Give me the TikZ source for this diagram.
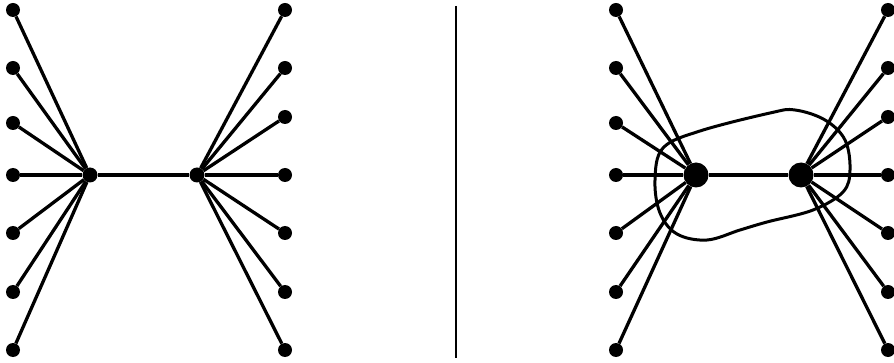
\documentclass[tikz,border=0pt]{standalone}
\usetikzlibrary{positioning}
\tikzset{
  dot/.style={circle, fill=black, inner sep=0pt, minimum size=14pt},
  hub/.style={circle, fill=black, inner sep=0pt, minimum size=#1},
  hub/.default=15pt,
  edge/.style={draw=black, line width=3.3pt},
  blob/.style={draw=black, line width=3pt},
  divider/.style={draw=black, line width=1.4pt},
}
\begin{document}
\begin{tikzpicture}[x=1pt, y=-1pt]
  \useasboundingbox (0,0) rectangle (894,363);
  % left graph
  \node[hub] (a) at (90,175) {};
  \node[hub] (b) at (197,175) {};
  \foreach \i/\yl/\yr in {1/10/10, 2/68/68, 3/123/117, 4/175/175, 5/233/233, 6/292/292, 7/350/350} {
    \node[dot] (al\i) at (13,\yl) {};
    \node[dot] (br\i) at (285,\yr) {};
    \draw[edge] (al\i) -- (a);
    \draw[edge] (br\i) -- (b);
  }
  \draw[edge] (a) -- (b);
  % divider
  \draw[divider] (456,6) -- (456,358);
  % right graph, hubs enclosed
  \node[hub=25pt] (c) at (696,175) {};
  \node[hub=25pt] (d) at (801,175) {};
  \foreach \i/\yl/\yr in {1/10/10, 2/68/68, 3/123/117, 4/175/175, 5/233/233, 6/292/292, 7/350/350} {
    \node[dot] (cl\i) at (616,\yl) {};
    \node[dot] (dr\i) at (888,\yr) {};
    \draw[edge] (cl\i) -- (c);
    \draw[edge] (dr\i) -- (d);
  }
  \draw[edge] (c) -- (d);
  \draw[blob] plot[smooth cycle, tension=0.6] coordinates {(655,180) (663,148) (700,131) (770,113) (795,110) (825,120) (845,140) (850,170) (843,192) (813,210) (767,222) (740,230) (707,240) (677,234) (660,213)};
\end{tikzpicture}
\end{document}
